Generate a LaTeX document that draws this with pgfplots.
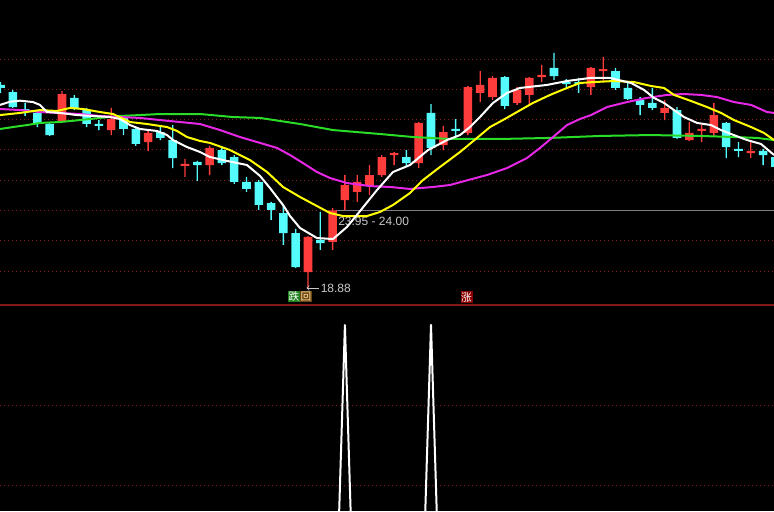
\documentclass[border=0pt]{standalone}
\usepackage{fontspec}
\setmainfont{Liberation Sans}
\newfontfamily\cjk{Noto Sans CJK SC}
\usepackage{pgfplots}
\usepackage{pgfplotstable}
\pgfplotsset{compat=1.18}

\definecolor{upred}{RGB}{255,60,60}
\definecolor{dncyan}{RGB}{84,252,252}
\definecolor{maw}{RGB}{255,255,255}
\definecolor{may}{RGB}{255,255,0}
\definecolor{mam}{RGB}{230,40,230}
\definecolor{mag}{RGB}{40,220,40}
\definecolor{gridred}{RGB}{128,32,32}
\definecolor{sepred}{RGB}{128,24,24}
\definecolor{labgray}{RGB}{200,200,200}
\definecolor{fallgreen}{RGB}{30,130,30}
\definecolor{backbrown}{RGB}{110,70,20}
\definecolor{backyellow}{RGB}{255,230,160}
\definecolor{risered}{RGB}{140,0,0}

% rising bars: index open high low close
\pgfplotstableread{
i o h l c
5 29.91 31.89 29.84 31.69
9 29.31 30.77 28.98 30.04
12 28.52 29.25 27.93 29.12
15 26.94 27.40 26.21 27.07
17 27.00 28.26 26.34 28.13
25 19.93 22.31 18.88 22.25
27 21.92 24.16 21.39 24.00
28 24.69 26.34 24.03 25.68
29 25.22 26.34 24.56 25.88
30 25.68 27.00 25.02 26.34
31 26.34 27.66 26.21 27.53
32 27.66 27.86 27.00 27.79
34 27.13 29.84 26.80 29.78
36 28.32 29.58 27.99 29.18
38 29.12 32.22 28.98 32.15
39 31.76 33.21 31.16 32.29
40 31.49 32.88 31.30 32.75
42 31.10 32.15 30.97 31.96
43 31.63 32.81 30.97 32.75
44 32.81 33.61 32.48 32.95
48 32.15 33.47 31.63 33.41
49 33.21 34.14 32.48 33.34
54 30.44 31.30 29.97 30.77
56 28.65 29.84 28.59 29.12
57 29.25 29.64 28.52 29.38
58 29.12 31.10 28.85 30.30
61 27.79 28.65 27.46 27.93
}\up

% falling bars
\pgfplotstableread{
i o h l c
0 32.29 32.48 31.76 32.09
1 31.82 31.96 30.77 30.83
2 30.70 31.10 30.24 30.57
3 30.44 30.57 29.51 29.78
4 29.71 29.84 28.92 28.98
6 31.43 31.63 30.63 30.77
7 30.63 30.77 29.51 29.71
8 29.71 29.97 29.31 29.58
10 30.17 30.30 28.98 29.38
11 29.38 29.51 28.26 28.39
13 29.18 29.64 28.65 28.79
14 28.65 29.64 26.80 27.46
16 27.20 27.27 25.95 27.00
18 27.99 28.13 27.00 27.13
19 27.53 27.66 25.75 25.88
20 25.88 26.21 25.22 25.42
21 25.88 26.01 24.03 24.36
22 24.49 24.56 23.37 24.03
23 23.83 24.36 21.72 22.51
24 22.51 22.78 20.20 20.26
26 22.05 23.90 21.39 21.85
33 27.53 27.99 26.87 27.13
35 30.44 31.03 27.66 28.13
37 29.38 30.04 28.79 29.25
41 32.81 32.88 30.70 30.90
45 33.41 34.40 32.62 32.88
46 32.48 32.68 32.02 32.35
47 32.48 32.75 31.76 32.35
50 33.21 33.41 31.96 32.09
51 32.09 32.42 31.30 31.36
52 31.30 31.49 30.30 30.97
53 31.10 32.09 30.63 30.77
55 30.63 30.83 28.72 28.79
59 29.78 29.84 27.46 28.19
60 28.06 28.52 27.53 27.93
62 27.93 28.06 27.00 27.66
63 27.53 27.86 26.47 26.87
}\down

\pgfplotsset{
  panel/.style={
    scale only axis, width=580.5pt, anchor=south west,
    xmin=-0.0407, xmax=62.886, enlargelimits=false,
    axis line style={draw=none}, major tick length=0pt,
    xtick=\empty, yticklabels={},
    grid style={gridred, line width=0.75pt, dash pattern=on 0.75pt off 2.25pt},
  },
  price/.style={panel, at={(0pt,154.5pt)}, height=228.75pt,
    ymin=17.755, ymax=37.90},
  candles/.style={price, ytick=\empty, ybar stacked},
  ma/.style={line width=1.5pt, mark=none, line join=round},
  wick/.style={draw=none, fill=#1, bar width=1pt},
  body/.style={draw=none, fill=#1, bar width=6.4pt},
}

\begin{document}
\begin{tikzpicture}
\fill[black] (0,0) rectangle (580.5pt,383.25pt);

% grid and cursor line
\begin{axis}[price, ytick={20,22,...,34}, ymajorgrids]
\draw[gray, line width=0.75pt] (axis cs:27.28,24.0) -- (axis cs:63,24.0);
\node[anchor=west, text=labgray, inner sep=0pt, font=\fontsize{9}{10}\selectfont]
  at (axis cs:27.44,23.30) {23.95 - 24.00};
\end{axis}

% rising candles: hidden base, lower wick, body, upper wick
\begin{axis}[candles]
\addplot[draw=none, fill=none, bar width=1pt] table[x=i, y=l] {\up};
\addplot[wick=upred] table[x=i, y expr=\thisrow{o}-\thisrow{l}] {\up};
\addplot[body=upred] table[x=i, y expr={max(\thisrow{c}-\thisrow{o},0.12)}] {\up};
\addplot[wick=upred] table[x=i,
  y expr={max(\thisrow{h}-max(\thisrow{c},\thisrow{o}+0.12),0)}] {\up};
\end{axis}

% falling candles
\begin{axis}[candles]
\addplot[draw=none, fill=none, bar width=1pt] table[x=i, y=l] {\down};
\addplot[wick=dncyan] table[x=i, y expr=\thisrow{c}-\thisrow{l}] {\down};
\addplot[body=dncyan] table[x=i, y expr={max(\thisrow{o}-\thisrow{c},0.12)}] {\down};
\addplot[wick=dncyan] table[x=i,
  y expr={max(\thisrow{h}-max(\thisrow{o},\thisrow{c}+0.12),0)}] {\down};
\end{axis}

% moving averages and marks
\begin{axis}[price, ytick=\empty]
\addplot[ma, mag] coordinates {
(-0.04,29.38) (1.02,29.51) (2.15,29.64) (3.21,29.78) (4.84,29.84) (6.46,29.97)
(8.09,30.11) (9.72,30.24) (11.34,30.30) (12.97,30.37) (16.22,30.37) (18.90,30.17)
(21.10,30.11) (24.35,29.71) (27.03,29.31) (30.85,29.05) (33.54,28.85) (36.54,28.72)
(40.61,28.72) (44.68,28.79) (48.74,28.92) (52.80,28.98) (56.87,28.92) (59.63,28.85)
(61.50,28.79) (62.89,28.65)};
\addplot[ma, mam] coordinates {
(-0.04,30.70) (1.59,30.63) (3.21,30.50) (4.84,30.44) (6.46,30.37) (8.09,30.24)
(9.72,30.17) (11.34,30.11) (12.97,29.97) (14.59,29.84) (16.22,29.71) (17.85,29.31)
(19.47,28.85) (20.85,28.52) (22.48,28.13) (23.54,27.66) (24.59,27.13) (25.73,26.54)
(26.79,26.14) (28.17,25.81) (30.04,25.61) (31.67,25.55) (33.29,25.42) (35.16,25.55)
(36.54,25.68) (37.76,25.95) (39.55,26.34) (41.18,26.80) (42.80,27.46) (43.86,28.13)
(44.92,28.85) (46.06,29.64) (47.11,30.04) (48.01,30.30) (49.31,30.83) (50.93,31.16)
(52.56,31.43) (54.19,31.63) (55.57,31.69) (56.95,31.63) (58.25,31.49) (59.63,31.16)
(61.02,30.97) (62.32,30.50) (62.89,30.44)};
\addplot[ma, may] coordinates {
(-0.04,30.30) (1.59,30.44) (3.21,30.63) (4.59,30.57) (5.65,30.77) (6.71,30.70)
(8.09,30.50) (9.15,30.37) (10.53,29.84) (11.91,29.71) (13.54,29.51) (14.35,29.25)
(15.16,28.85) (16.22,28.59) (17.03,28.46) (18.66,27.99) (20.28,27.33) (21.67,26.54)
(22.97,25.55) (24.35,24.89) (25.73,24.29) (26.79,23.83) (27.85,23.63) (29.80,23.63)
(30.85,23.90) (31.91,24.36) (33.29,25.15) (34.35,26.01) (35.73,26.87) (37.36,27.86)
(38.74,28.79) (39.80,29.51) (40.85,29.97) (41.99,30.50) (43.29,31.10) (44.68,31.63)
(46.06,32.09) (47.11,32.42) (48.25,32.48) (49.88,32.55) (51.50,32.48) (52.89,32.22)
(53.94,32.09) (54.76,31.63) (56.14,31.23) (57.44,30.83) (58.58,30.44) (59.63,29.97)
(61.02,29.51) (62.07,29.12) (62.89,28.65)};
\addplot[ma, maw] coordinates {
(-0.04,30.97) (0.77,31.18) (1.59,31.25) (2.64,31.16) (3.21,30.97) (3.78,30.50)
(4.84,30.44) (6.22,30.30) (7.52,30.24) (8.90,30.17) (9.72,30.04) (10.53,29.64)
(11.34,29.38) (12.72,29.25) (13.54,28.98) (14.02,28.65) (15.16,28.19) (16.22,27.86)
(17.03,27.53) (18.41,27.27) (20.04,27.00) (21.10,26.28) (21.91,25.48) (22.97,24.36)
(23.54,23.63) (24.35,22.84) (25.73,22.18) (27.03,22.11) (28.17,22.91) (29.23,23.96)
(30.61,25.35) (31.91,26.54) (33.29,27.00) (34.76,27.99) (36.30,28.65) (37.36,28.98)
(38.17,29.51) (38.98,30.17) (40.04,31.10) (41.18,31.76) (42.24,32.09) (44.43,32.29)
(46.06,32.55) (47.93,32.75) (49.55,32.75) (51.26,32.42) (52.32,31.96) (53.13,31.43)
(53.94,31.10) (54.76,30.63) (55.57,30.17) (56.63,29.78) (57.76,29.64) (58.58,29.31)
(59.39,29.05) (60.69,28.65) (61.83,28.39) (62.89,27.66)};

\draw[labgray, line width=0.6pt, ->] (axis cs:25.89,18.88) -- (axis cs:24.88,18.88);
\node[anchor=west, text=labgray, inner sep=0pt, font=\fontsize{9}{10}\selectfont]
  at (axis cs:26.02,18.88) {18.88};
\node[fill=fallgreen, text=white, inner sep=0pt, minimum width=8.6pt,
  minimum height=8.3pt, font=\cjk\fontsize{8}{8}\selectfont]
  at (axis cs:23.86,18.32) {跌};
\node[fill=backbrown, text=backyellow, inner sep=0pt, minimum width=8.6pt,
  minimum height=8.3pt, font=\cjk\fontsize{8}{8}\selectfont]
  at (axis cs:24.84,18.32) {回};
\node[fill=risered, text=white, inner sep=0pt, minimum width=9pt,
  minimum height=8.6pt, font=\cjk\fontsize{8}{8}\selectfont]
  at (axis cs:37.89,18.28) {涨};
\end{axis}

% signal panel
\begin{axis}[panel, at={(0pt,0pt)}, height=154.5pt,
  ymin=53.5, ymax=105, ytick={60,80}, ymajorgrids]
\addplot[white, line width=1.5pt, line join=round, mark=none] coordinates {
(0,0) (27,0) (28,100) (29,0) (34,0) (35,100) (36,0) (63,0)};
\end{axis}

\draw[sepred, line width=1.5pt] (0pt,154.5pt) -- (580.5pt,154.5pt);
\pgfresetboundingbox
\path[use as bounding box] (0,0) rectangle (580.5pt,383.25pt);
\end{tikzpicture}
\end{document}
